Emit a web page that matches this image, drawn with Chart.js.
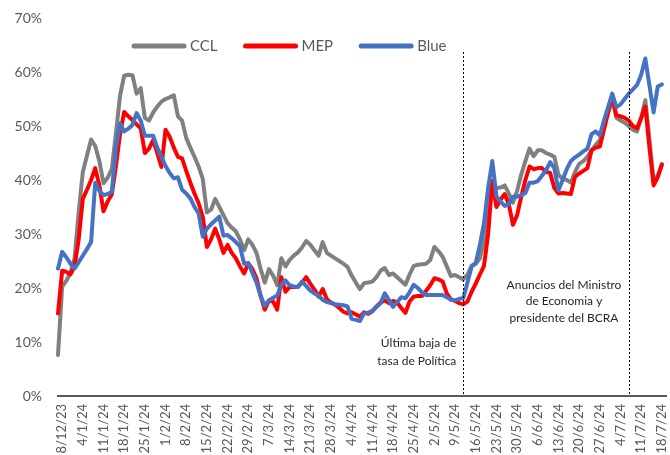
<!DOCTYPE html>
<html>
<head>
<meta charset="utf-8">
<script src="https://cdn.jsdelivr.net/npm/chart.js@4.4.1/dist/chart.umd.min.js"></script>
<style>
  html, body { margin: 0; padding: 0; background: #fff; }
  #wrap { width: 670px; height: 455px; }
</style>
</head>
<body>
<div id="wrap"><canvas id="c" width="670" height="455"></canvas></div>
<script>
// Weekly date labels shown under the axis (one every five sessions)
const tickLabels = ['8/12/23','4/1/24','11/1/24','18/1/24','25/1/24','1/2/24','8/2/24','15/2/24',
  '22/2/24','29/2/24','7/3/24','14/3/24','21/3/24','28/3/24','4/4/24','11/4/24','18/4/24',
  '25/4/24','2/5/24','9/5/24','16/5/24','23/5/24','30/5/24','6/6/24','13/6/24','20/6/24',
  '27/6/24','4/7/24','11/7/24','18/7/24'];

// Daily sessions: a label on every fifth one
const categories = Array.from({ length: 147 }, (_, i) =>
  (i % 5 === 1) ? tickLabels[(i - 1) / 5] : '');

// Brecha cambiaria (%) por tipo de cambio
const ccl = [
  7.6, 20.2, 21.3, 22.8, 25.5, 34, 41.5, 44.5, 47.5, 46.3,
  43.5, 39.4, 40.4, 42, 48.6, 55.6, 59.3, 59.5, 59.4, 56,
  57, 51.5, 51, 52.5, 53.6, 54.5, 55, 55.3, 55.7, 51.8,
  51, 47.8, 46, 44.3, 42.5, 40.2, 34, 34.5, 36.5, 35,
  33.5, 32, 31.2, 30.5, 29, 27, 29, 28, 26.5, 23.5,
  21, 23.5, 22.3, 20.5, 25.5, 24, 25.2, 26, 26.6, 27.5,
  28.7, 28, 27, 26, 28.5, 26.5, 26, 25.5, 25, 24.5,
  23.9, 22.3, 21, 19.8, 20.9, 21, 21.2, 22, 23.2, 23.7,
  22.4, 22.7, 22, 21.3, 20.6, 22.5, 24.1, 24.3, 24.4, 24.5,
  25.2, 27.6, 26.8, 25.8, 24, 22.2, 22.4, 22, 21.6, 22.5,
  24.1, 24.5, 25.5, 28.5, 33.2, 39, 38.5, 38.6, 39, 37.5,
  35.8, 38, 41, 43.5, 45.8, 44.4, 45.5, 45.5, 45, 44.7,
  44.3, 41, 40.2, 40, 39.5, 41.5, 43, 43.5, 44.3, 45.5,
  46.5, 47.4, 50, 52.5, 55, 51.5, 51, 50.6, 50, 49.3,
  49, 51.5, 54.8, 47.5, 40, 40.8, 43
];

const mep = [
  15.3, 23.2, 23, 22.5, 24, 29, 36.5, 38.2, 40, 42.2,
  39, 34.2, 36, 37.3, 42.5, 48.5, 52.6, 51.8, 51.1, 50.3,
  49.6, 45, 45.8, 47.4, 45, 42.4, 49.3, 48, 46, 44.3,
  44, 41.7, 39.5, 37.5, 35.7, 33.2, 27.6, 29, 31, 29,
  26.5, 28, 26.5, 25.5, 24, 22.7, 24.6, 23.5, 21.8, 18.5,
  16, 17.7, 17.5, 16, 22, 19.3, 20.2, 20.2, 20.2, 21,
  22, 20.8, 19.7, 18.4, 19.8, 17.9, 17.3, 16.9, 16.3, 15.6,
  15.3, 15.5, 15.1, 14.7, 15.5, 15.2, 15.7, 16.6, 17.3, 17.7,
  17.2, 17.6, 17.3, 16.3, 15.4, 17.5, 18.4, 18.5, 18.5, 19.5,
  20.5, 21.8, 21.6, 21.2, 19, 17.9, 17.6, 17.2, 17, 17.5,
  19.3, 20.8, 22.5, 24.1, 30, 39.8, 35, 36.4, 37.4, 35.5,
  31.7, 33.5, 36.9, 40, 42.5, 42, 42.2, 42.2, 41.5, 41.3,
  38.5, 37.5, 37.6, 37.5, 37.4, 40.6, 41.2, 41.7, 42.2, 45.5,
  46, 46.2, 49.3, 52.5, 55.5, 52, 51.8, 51.5, 51, 50,
  49.6, 51.5, 53.6, 46, 39, 40.5, 42.8
];

const blue = [
  23.6, 26.7, 25.7, 24.5, 23.6, 24.8, 26, 27.2, 28.5, 39.5,
  38, 37.2, 37.4, 37.8, 46, 50.5, 49, 49.5, 50.2, 52.4,
  51, 48.2, 48.2, 48.2, 46, 44.3, 42.6, 41.3, 40.3, 40.5,
  38.2, 37.5, 36.6, 35, 33.8, 29.5, 31, 31.8, 32.5, 33.2,
  29.7, 29.8, 29.2, 28.5, 27.7, 24.5, 24.6, 22.8, 21, 18.5,
  16.7, 17.7, 18.2, 18.6, 20.6, 21.4, 20.5, 20.3, 20.2, 21.2,
  20.4, 19.5, 19, 18.6, 17.8, 17.4, 17.2, 17, 16.9, 16.8,
  16.6, 14.3, 14.1, 13.9, 15.3, 15.4, 15.8, 16.5, 17.2, 19,
  17.8, 16.5, 17.4, 18.3, 18.1, 19.2, 20.6, 20, 19.2, 18.7,
  18.7, 18.7, 18.7, 18.7, 18.3, 17.8, 17.7, 18, 18.1, 21,
  24, 24.6, 28, 32, 38.5, 43.5, 37, 36, 35.2, 35.5,
  36.9, 36.9, 37.2, 37.6, 39.5, 39.5, 39.8, 40.8, 41.8, 43.3,
  42.2, 38.1, 40, 42, 43.5, 44.2, 44.7, 45.3, 45.8, 48.5,
  49, 48.3, 51, 53.5, 56, 53.5, 54, 55, 56, 56.8,
  57.6, 59.5, 62.5, 57.5, 52.5, 57.3, 57.7
];

// Sessions marked with a vertical dashed line, and their notes
const eventSessions = [98, 138];
const eventNotes = [
  ['Última baja de', 'tasa de Política'],
  ['Anuncios del Ministro', 'de Economia y', 'presidente del BCRA']
];

const FONT = 'Lato, "Open Sans", sans-serif';
const GREY_TEXT = '#595959';

// Series key drawn inside the plot, along the top
const seriesKey = {
  id: 'seriesKey',
  afterDraw(chart) {
    const ctx = chart.ctx;
    ctx.save();
    ctx.font = '15px ' + FONT;
    ctx.textBaseline = 'middle';
    ctx.textAlign = 'left';
    let x = 132;
    const y = 46;
    chart.data.datasets.forEach(ds => {
      ctx.strokeStyle = ds.borderColor;
      ctx.lineWidth = 5;
      ctx.lineCap = 'round';
      ctx.beginPath();
      ctx.moveTo(x + 2, y);
      ctx.lineTo(x + 52, y);
      ctx.stroke();
      ctx.fillStyle = GREY_TEXT;
      ctx.fillText(ds.label, x + 58, y);
      x += 58 + ctx.measureText(ds.label).width + 26;
    });
    ctx.restore();
  }
};

// Dashed event lines with their notes
const eventMarks = {
  id: 'eventMarks',
  afterDatasetsDraw(chart) {
    const ctx = chart.ctx;
    const xs = chart.scales.x, ys = chart.scales.y;
    ctx.save();
    ctx.strokeStyle = '#000';
    ctx.lineWidth = 1;
    ctx.setLineDash([2, 2]);
    eventSessions.forEach(s => {
      const px = Math.round(xs.getPixelForValue(s)) + 0.5;
      ctx.beginPath();
      ctx.moveTo(px, ys.getPixelForValue(63.7));
      ctx.lineTo(px, ys.getPixelForValue(0));
      ctx.stroke();
    });
    ctx.setLineDash([]);
    ctx.fillStyle = '#262626';
    ctx.font = '12px ' + FONT;
    ctx.textBaseline = 'middle';

    // first note: right-aligned just left of its line
    const x1 = xs.getPixelForValue(eventSessions[0]) - 7;
    ctx.textAlign = 'right';
    eventNotes[0].forEach((t, k) => ctx.fillText(t, x1, 343 + k * 18));

    // second note: centred in the gap before the second line
    ctx.textAlign = 'center';
    eventNotes[1].forEach((t, k) => ctx.fillText(t, 564, 285 + k * 16.5));
    ctx.restore();
  }
};

function draw() {
  new Chart(document.getElementById('c'), {
    type: 'line',
    data: {
      labels: categories.concat(['']),
      datasets: [
        { label: 'CCL',  data: ccl,  borderColor: '#808080', order: 3 },
        { label: 'MEP',  data: mep,  borderColor: '#ff0000', order: 2 },
        { label: 'Blue', data: blue, borderColor: '#4472c4', order: 1 }
      ]
    },
    options: {
      responsive: false,
      animation: false,
      devicePixelRatio: 1,
      layout: { padding: { top: 18, right: 4, left: 0, bottom: 0 } },
      elements: {
        point: { radius: 0, hoverRadius: 0 },
        line: { tension: 0, borderWidth: 4, borderJoinStyle: 'round', borderCapStyle: 'round', fill: false }
      },
      plugins: { legend: { display: false }, tooltip: { enabled: false } },
      events: [],
      scales: {
        x: {
          grid: { display: false, drawTicks: false },
          border: { display: true, color: GREY_TEXT, width: 2 },
          ticks: {
            autoSkip: false, minRotation: 90, maxRotation: 90, padding: 8,
            color: GREY_TEXT, font: { family: FONT, size: 13 }
          },
          afterFit(s) { s.height = 59; s.paddingLeft = 0; s.paddingRight = 0; }
        },
        y: {
          min: 0, max: 70,
          grid: { display: false, drawTicks: false },
          border: { display: false },
          ticks: {
            stepSize: 10, padding: 16, color: GREY_TEXT,
            font: { family: FONT, size: 14 },
            callback: v => v + '%'
          },
          afterFit(s) { s.width = 58; s.paddingTop = 0; s.paddingBottom = 0; }
        }
      }
    },
    plugins: [eventMarks, seriesKey]
  });
}

if (document.fonts && document.fonts.load) {
  Promise.all([document.fonts.load('13px Lato'), document.fonts.load('15px Lato')])
    .then(draw, draw);
} else {
  draw();
}
</script>
</body>
</html>
